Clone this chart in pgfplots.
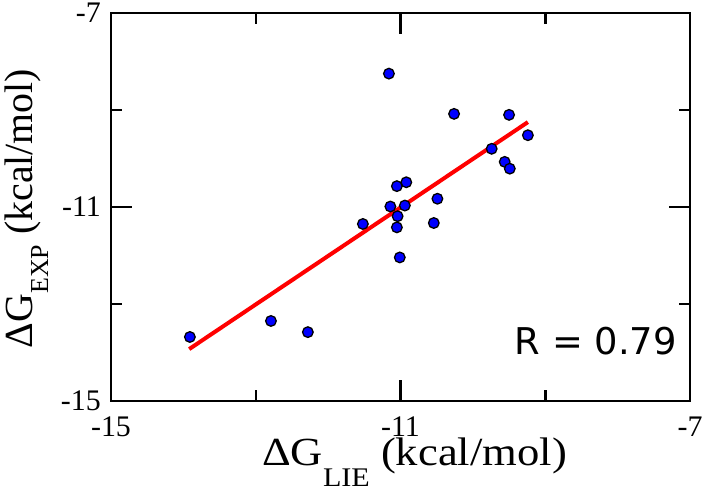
\documentclass[border=0pt]{standalone}
\usepackage{pgfplots}
\pgfplotsset{compat=1.18}
\usepackage{fontspec}
\setmainfont{Liberation Serif}
\newfontfamily\tickfont{Liberation Serif}
\newfontfamily\rfont{DejaVu Sans}
\begin{document}
\begin{tikzpicture}[x=1bp,y=1bp]
\path[use as bounding box] (0,0) rectangle (707,496);
\begin{axis}[at={(111bp,95bp)}, anchor=south west, scale only axis,
  width=579bp, height=388bp,
  xmin=-15, xmax=-7, ymin=-15, ymax=-7,
  xtick={-15,-11,-7}, ytick={-15,-11,-7},
  xticklabel={\tickfont\fontsize{30}{30}\selectfont\ifnum\ticknum=0 -15\else\ifnum\ticknum=1 -11\else -7\fi\fi},
  yticklabel={\tickfont\fontsize{30}{30}\selectfont\ifnum\ticknum=0 -15\else\ifnum\ticknum=1 -11\else -7\fi\fi},
  minor tick num=1,
  tick align=inside, major tick length=21bp, minor tick length=11bp,
  axis line style={line width=2.5bp},
  every tick/.style={black, line width=2.5bp},
  xticklabel style={inner sep=0pt, yshift=-16bp},
  yticklabel style={inner sep=0pt, xshift=-10bp},
  clip=false]
\addplot[only marks, mark=*, mark size=5.3bp,
  mark options={fill=blue, draw=black, line width=1.3bp}] coordinates {
(-11.16,-8.25)
(-10.26,-9.08)
(-9.50,-9.10)
(-9.24,-9.52)
(-9.74,-9.80)
(-9.56,-10.07)
(-9.49,-10.21)
(-10.92,-10.49)
(-11.05,-10.57)
(-10.49,-10.83)
(-11.14,-10.99)
(-10.94,-10.97)
(-11.04,-11.19)
(-11.52,-11.35)
(-10.54,-11.33)
(-11.05,-11.42)
(-11.01,-12.04)
(-12.79,-13.35)
(-12.28,-13.58)
(-13.91,-13.68)
};
\addplot[red, line width=4bp] coordinates {(-13.92,-13.93) (-9.24,-9.25)};
\end{axis}
\node[anchor=base, inner sep=0pt] at (414.5,30)
  {\scalebox{1.12}[1]{\fontsize{40}{40}\selectfont ΔG\raisebox{-21bp}{\fontsize{27}{27}\selectfont LIE} (kcal/mol)}};
\node[anchor=base, rotate=90, inner sep=0pt] at (32,287.5)
  {\fontsize{40}{40}\selectfont ΔG\raisebox{-16bp}{\fontsize{26}{26}\selectfont EXP} (kcal/mol)};
\node[anchor=base east, inner sep=0pt] at (677,141)
  {\rfont\fontsize{37}{37}\selectfont R = 0.79};
\end{tikzpicture}
\end{document}
